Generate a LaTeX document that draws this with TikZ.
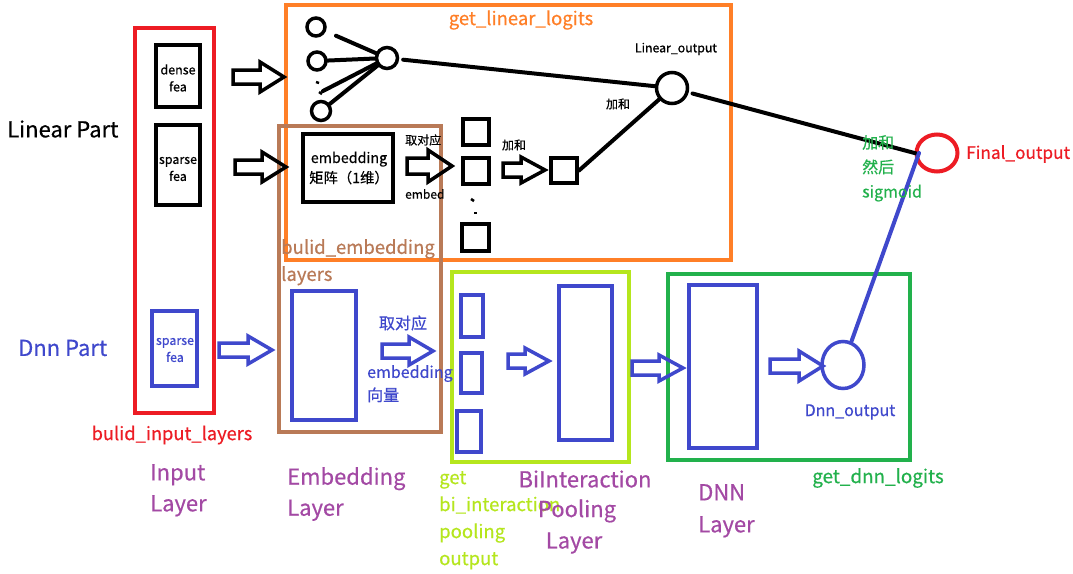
\documentclass[tikz,border=0pt]{standalone}
\usepackage{fontspec}
\setmainfont{Noto Sans CJK SC}[FakeBold=0.5]
\usetikzlibrary{shapes.geometric}
\definecolor{cred}{RGB}{237,28,36}
\definecolor{corange}{RGB}{255,127,39}
\definecolor{cbrown}{RGB}{185,122,87}
\definecolor{clime}{RGB}{181,230,29}
\definecolor{cgreen}{RGB}{34,177,76}
\definecolor{cblue}{RGB}{63,72,204}
\definecolor{cpurple}{RGB}{163,73,164}
\newcommand\fs[2]{\fontsize{#1}{#2}\selectfont}
\newcommand\barrow[6]{% color, xstart, xend, y, shaft half, head half
  \draw[#1, line width=3.5pt, line join=miter]
   (#2,#4-#5) -- (#3-24,#4-#5) -- (#3-24,#4-#6) -- (#3,#4) -- (#3-24,#4+#6)
   -- (#3-24,#4+#5) -- (#2,#4+#5) -- cycle;}
\tikzset{
  lbl/.style={inner sep=0pt, align=center},
  neuron/.style={draw, ellipse, line width=3.5pt, inner sep=0pt},
  link/.style={line width=4pt, line cap=round},
}
\begin{document}
\begin{tikzpicture}[x=1pt,y=-1pt]
\useasboundingbox (0,0) rectangle (1073,573);
\fill[white] (0,0) rectangle (1073,573);

% ---------- frames ----------
\draw[cred, line width=4pt] (135,28) rectangle (214,413);
\draw[corange, line width=4pt] (286,5) rectangle (731,260);
\draw[cbrown, line width=4pt] (279,126) rectangle (441,432);
\draw[clime, line width=4pt] (452,272) rectangle (629,462);
\draw[cgreen, line width=4pt] (668,274) rectangle (910,460);

% ---------- input layer ----------
\node[draw, line width=4pt, minimum width=44pt, minimum height=62pt, inner sep=0pt] (dense) at (178,76) {};
\node[lbl, font=\fs{12.5}{17}] (densetxt) at (178,78) {dense\\fea};
\node[draw, line width=4pt, minimum width=44pt, minimum height=80pt, inner sep=0pt] (sparse) at (178,165) {};
\node[lbl, font=\fs{12.5}{17}] (sparsetxt) at (178,169) {sparse\\fea};
\node[draw=cblue, line width=4pt, minimum width=45pt, minimum height=75pt, inner sep=0pt] (bsparse) at (174.5,348.5) {};
\node[lbl, font=\fs{12.5}{17}, text=cblue] (bsparsetxt) at (175,350) {sparse\\fea};

\node[lbl, font=\fs{22}{24}, anchor=west] (linpart) at (7,129) {Linear Part};
\node[lbl, font=\fs{22}{24}, anchor=west, text=cblue] (dnnpart) at (18,348) {Dnn Part};
\node[lbl, font=\fs{18.3}{20}, text=cred] (bil) at (172,435) {bulid\_input\_layers};
\node[lbl, font=\fs{22}{31}, text=cpurple, align=left, anchor=north west] (inlayer) at (150,464) {Input\\Layer};

% ---------- block arrows ----------
\barrow{black}{233}{284}{77}{7}{15}
\barrow{black}{235}{286}{167}{7}{15}
\barrow{cblue}{219}{272}{350}{7}{14}
\barrow{black}{407}{452}{166}{8}{16}
\barrow{black}{503}{545}{170}{7}{13}
\barrow{cblue}{382}{433}{351}{7}{14}
\barrow{cblue}{508}{549}{361}{7}{13}
\barrow{cblue}{632}{683}{368}{7}{13}
\barrow{cblue}{770}{823}{366}{7}{15}

% ---------- linear part ----------
\node[lbl, font=\fs{18.5}{20}, text=corange] (gll) at (521,20) {get\_linear\_logits};
\node[neuron, minimum width=18pt, minimum height=18pt] (c1) at (316,27) {};
\node[neuron, minimum width=18pt, minimum height=18pt] (c2) at (317,61) {};
\node[neuron, minimum width=19pt, minimum height=19pt] (c3) at (321,111) {};
\coordinate (dots) at (323,91);
\draw[line width=2.5pt] (316,82) -- (319,83);
\draw[line width=2.5pt] (319,92) -- (322,94);
\node[neuron, minimum width=21pt, minimum height=21pt] (hub) at (387,58) {};
\draw[link, shorten <=11pt] (c1) -- (hub);
\draw[link] (c2) -- (hub);
\draw[link] (c3) -- (hub);
\draw[link] (dots) -- (hub);

\node[neuron, minimum width=31pt, minimum height=31pt] (linout) at (672,88) {};
\node[lbl, font=\fs{12.3}{14}] (linouttxt) at (676,49) {Linear\_output};
\draw[link, shorten <=4pt] (hub) -- (linout);

\node[draw, line width=4pt, minimum width=90pt, minimum height=68pt, inner sep=0pt] (emb) at (348,168) {};
\node[lbl, font=\fs{14.3}{20}] (embtxt) at (349,168) {embedding\\矩阵（1维）};
\node[lbl, font=\fs{12}{13}, anchor=west] (qdy1) at (405,140) {取对应};
\node[lbl, font=\fs{12}{13}, anchor=west] (embed1) at (405,194) {embed};

\node[draw, fill=white, line width=4pt, minimum size=26pt, inner sep=0pt] (s1) at (476,132) {};
\node[draw, fill=white, line width=4pt, minimum size=26pt, inner sep=0pt] (s2) at (476,171) {};
\node[draw, fill=white, line width=4pt, minimum size=27pt, inner sep=0pt] (s3) at (475,237.5) {};
\draw[line width=2.5pt] (471,199) -- (474,201);
\draw[line width=2.5pt] (474,213) -- (477,213);
\node[lbl, font=\fs{12}{13}] (jh1) at (514,145) {加和};
\node[draw, line width=4pt, minimum width=26pt, minimum height=25pt, inner sep=0pt] (ssum) at (564,170.5) {};
\draw[link] (ssum.east) -- (linout);
\node[lbl, font=\fs{12}{13}] (jh2) at (618,104) {加和};

% ---------- embedding layer ----------
\node[lbl, font=\fs{18.5}{27}, text=cbrown, align=left, anchor=north west] (bel) at (281,239) {bulid\_embedding\\layers};
\node[draw=cblue, line width=4pt, minimum width=64pt, minimum height=129pt, inner sep=0pt] (embvec) at (324,355) {};
\node[lbl, font=\fs{16}{16}, text=cblue] (qdy2) at (403,323) {取对应};
\node[lbl, font=\fs{16}{23}, text=cblue, align=left, anchor=north west] (embvtxt) at (367,365) {embedding\\向量};
\node[lbl, font=\fs{22}{31}, text=cpurple, align=left, anchor=north west] (emblayer) at (287,467) {Embedding\\Layer};

% ---------- bi-interaction ----------
\node[draw=cblue, line width=4pt, minimum width=22pt, minimum height=42pt, inner sep=0pt] (b1) at (472,315.5) {};
\node[draw=cblue, line width=4pt, minimum width=21pt, minimum height=40pt, inner sep=0pt] (b2) at (471.5,372.5) {};
\node[draw=cblue, line width=4pt, minimum width=24pt, minimum height=41pt, inner sep=0pt] (b3) at (469,431) {};
\node[draw=cblue, line width=4pt, minimum width=53pt, minimum height=154pt, inner sep=0pt] (bipool) at (585,362.5) {};
\node[lbl, font=\fs{18.5}{27}, text=clime, align=left, anchor=north west] (gbi) at (439,471) {get\\bi\_interaction\\pooling\\output};
\node[lbl, font=\fs{22}{24}, text=cpurple] (bil1) at (585,479) {BiInteraction};
\node[lbl, font=\fs{22}{24}, text=cpurple] (bil2) at (577,511) {Pooling};
\node[lbl, font=\fs{22}{24}, text=cpurple] (bil3) at (574,543) {Layer};

% ---------- DNN ----------
\node[draw=cblue, line width=4pt, minimum width=68pt, minimum height=163pt, inner sep=0pt] (dnn) at (722.5,366) {};
\node[draw=cblue, ellipse, line width=3.5pt, minimum width=42pt, minimum height=47pt, inner sep=0pt] (dnnout) at (843,365) {};
\node[lbl, font=\fs{16}{16}, text=cblue] (dnnouttxt) at (850,412) {Dnn\_output};
\node[lbl, font=\fs{18.8}{20}, text=cgreen] (gdl) at (878,478) {get\_dnn\_logits};
\node[lbl, font=\fs{22}{32}, text=cpurple, align=left, anchor=north west] (dnnlayer) at (698,484) {DNN\\Layer};

% ---------- final ----------
\node[draw=cred, ellipse, line width=4pt, minimum width=41pt, minimum height=37pt, inner sep=0pt] (final) at (937,153) {};
\node[lbl, font=\fs{17.2}{20}, text=cred, anchor=west] (finaltxt) at (966,154) {Final\_output};
\draw[link, shorten <=4pt, shorten >=-2pt] (linout) -- (final.west);
\draw[cblue, link] (dnnout) -- ([xshift=-18pt,yshift=0pt]final.center);
\node[lbl, font=\fs{16}{24.5}, text=cgreen, align=left, anchor=north west] (sig) at (862,135) {加和\\然后\\sigmoid};
\end{tikzpicture}
\end{document}
